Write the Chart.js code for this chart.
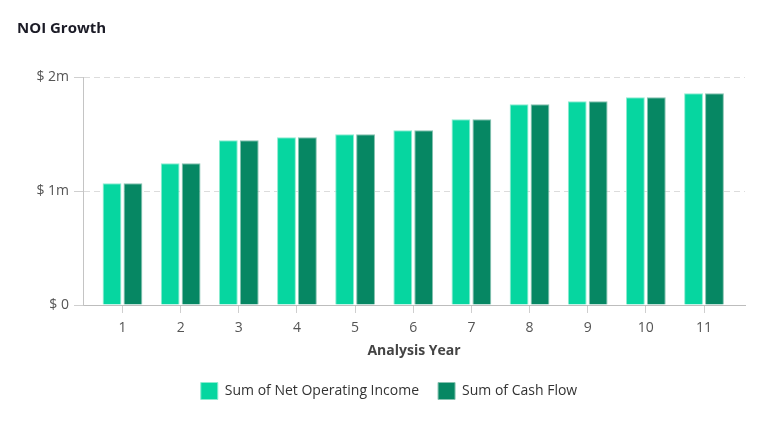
<!DOCTYPE html>
<html>
<head>
<meta charset="utf-8">
<script src="https://cdn.jsdelivr.net/npm/chart.js@4.4.1/dist/chart.umd.min.js"></script>
<style>
  html, body { margin: 0; padding: 0; background: #fff; }
  #wrap { width: 777px; height: 434px; position: relative; }
</style>
</head>
<body>
<div id="wrap"><canvas id="c"></canvas></div>
<script>
const chartTitle = 'NOI Growth';
const years = [1, 2, 3, 4, 5, 6, 7, 8, 9, 10, 11];
const netOperatingIncome = [1068000, 1243000, 1445000, 1471000, 1497000, 1532000, 1629000, 1761000, 1787000, 1822000, 1857000];
const cashFlow = [1068000, 1243000, 1445000, 1471000, 1497000, 1532000, 1629000, 1761000, 1787000, 1822000, 1857000];
const yTickValues = [0, 1000000, 2000000];
const yTickLabels = ['$ 0', '$ 1m', '$ 2m'];
const seriesNames = ['Sum of Net Operating Income', 'Sum of Cash Flow'];
const xAxisTitle = 'Analysis Year';

const FONT = "'Open Sans', sans-serif";

const titlePlugin = {
  id: 'leftTitle',
  afterDraw(chart) {
    const ctx = chart.ctx;
    ctx.save();
    ctx.font = "bold 15px " + FONT;
    ctx.fillStyle = '#1b1b26';
    ctx.textAlign = 'left';
    ctx.textBaseline = 'middle';
    ctx.fillText(chartTitle, 17, 29);
    ctx.restore();
  }
};

new Chart(document.getElementById('c'), {
  type: 'bar',
  data: {
    datasets: [
      {
        label: seriesNames[0],
        data: years.map((y, i) => ({ x: y, y: netOperatingIncome[i] })),
        backgroundColor: '#06d6a0',
        borderColor: '#8cecd0',
        borderWidth: 1,
        categoryPercentage: 0.72,
        barPercentage: 0.9
      },
      {
        label: seriesNames[1],
        data: years.map((y, i) => ({ x: y, y: cashFlow[i] })),
        backgroundColor: '#068763',
        borderColor: '#86c2b0',
        borderWidth: 1,
        categoryPercentage: 0.72,
        barPercentage: 0.9
      }
    ]
  },
  options: {
    responsive: true,
    maintainAspectRatio: false,
    animation: false,
    devicePixelRatio: 1,
    layout: { padding: { left: 33, right: 32, top: 77, bottom: 24.5 } },
    plugins: {
      title: { display: false },
      tooltip: { enabled: false },
      legend: {
        position: 'bottom',
        labels: {
          boxWidth: 17,
          boxHeight: 17,
          padding: 19,
          color: '#333',
          font: { family: FONT, size: 14 }
        }
      }
    },
    scales: {
      x: {
        type: 'linear',
        min: 0.321,
        max: 11.705,
        offset: false,
        afterBuildTicks(scale) { scale.ticks = years.map(v => ({ value: v })); },
        afterFit(scale) { scale.height = 58.5; },
        grid: { offset: false, drawOnChartArea: false, drawTicks: true, tickLength: 8, tickColor: '#cfcfcf' },
        border: { color: '#bdbdbd', width: 1 },
        ticks: {
          autoSkip: false,
          maxRotation: 0,
          padding: 7,
          color: '#555',
          font: { family: FONT, size: 14 },
          callback: v => String(v)
        },
        title: {
          display: true,
          text: xAxisTitle,
          color: '#444',
          font: { family: FONT, size: 14, weight: 'bold' },
          padding: { top: 4, bottom: 4 }
        }
      },
      y: {
        min: 0,
        max: 2000000,
        afterBuildTicks(scale) { scale.ticks = yTickValues.map(v => ({ value: v })); },
        afterFit(scale) { scale.width = 50; },
        grid: {
          color: '#dcdcdc',
          lineWidth: 1,
          tickLength: 9,
          tickColor: '#cfcfcf',
          tickBorderDash: [],
          drawTicks: true
        },
        border: { color: '#c4c4c4', width: 1, dash: [6, 4] },
        ticks: {
          padding: 5,
          color: '#555',
          font: { family: FONT, size: 14 },
          callback: v => yTickLabels[yTickValues.indexOf(v)]
        }
      }
    }
  },
  plugins: [titlePlugin]
});
</script>
</body>
</html>
